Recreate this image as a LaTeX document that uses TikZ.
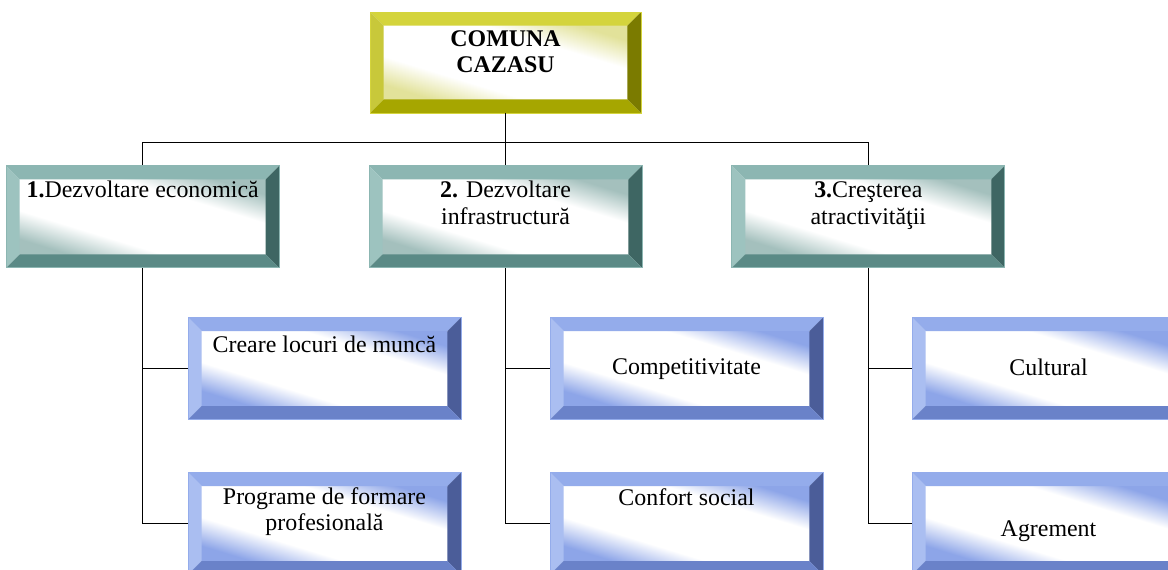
\documentclass[tikz,border=0pt]{standalone}
\usepackage{fontspec}
\setmainfont{Liberation Serif}
\usetikzlibrary{calc,positioning}

\newdimen\unitpx \unitpx=0.02cm
\newcommand{\bevw}{0.27cm}
% first text line sits #1 px above the box centre
\newcommand{\boxtext}[2]{\raisebox{#1\unitpx}[0pt][0pt]{\begin{tabular}[t]{@{}c@{}}#2\end{tabular}}}

\definecolor{goldT}{HTML}{D4D43C}
\definecolor{goldL}{HTML}{C8C83A}
\definecolor{goldR}{HTML}{7B7B00}
\definecolor{goldB}{HTML}{A6A600}
\definecolor{goldI}{HTML}{E2E29A}
\definecolor{tealT}{HTML}{8CB6B2}
\definecolor{tealL}{HTML}{9DC3BF}
\definecolor{tealR}{HTML}{3E6663}
\definecolor{tealB}{HTML}{5B8A86}
\definecolor{tealI}{HTML}{A4C0BD}
\definecolor{blueT}{HTML}{94ACEB}
\definecolor{blueL}{HTML}{AABEF1}
\definecolor{blueR}{HTML}{4B5D99}
\definecolor{blueB}{HTML}{6A82C9}
\definecolor{blueI}{HTML}{8DA5E8}

% diagonal inner fills: coloured corners, wide white band
\pgfdeclareverticalshading{goldfill}{100bp}{color(0bp)=(goldI); color(25bp)=(goldI); color(37bp)=(white); color(63bp)=(white); color(75bp)=(goldI); color(100bp)=(goldI)}
\pgfdeclareverticalshading{tealfill}{100bp}{color(0bp)=(tealI); color(25bp)=(tealI); color(37bp)=(white); color(63bp)=(white); color(75bp)=(tealI); color(100bp)=(tealI)}
\pgfdeclareverticalshading{bluefill}{100bp}{color(0bp)=(blueI); color(25bp)=(blueI); color(37bp)=(white); color(63bp)=(white); color(75bp)=(blueI); color(100bp)=(blueI)}

\tikzset{
  bevel/.style n args={5}{rectangle, inner sep=0pt, minimum width=5.46cm, minimum height=2.04cm,
    font=\fontsize{13.6pt}{15.3pt}\selectfont, draw=#1, line width=0.5pt,
    path picture={
      \coordinate (bl) at (path picture bounding box.south west);
      \coordinate (tr) at (path picture bounding box.north east);
      \coordinate (tl) at (bl|-tr);
      \coordinate (br) at (tr|-bl);
      \shade[shading=#5, shading angle=-17]
        ($(bl)+(\bevw,\bevw)$) rectangle ($(tr)-(\bevw,\bevw)$);
      \fill[#1] (tl) -- (tr) -- ($(tr)+(-\bevw,-\bevw)$) -- ($(tl)+(\bevw,-\bevw)$) -- cycle;
      \fill[#2] (tl) -- (bl) -- ($(bl)+(\bevw,\bevw)$) -- ($(tl)+(\bevw,-\bevw)$) -- cycle;
      \fill[#3] (tr) -- (br) -- ($(br)+(-\bevw,\bevw)$) -- ($(tr)+(-\bevw,-\bevw)$) -- cycle;
      \fill[#4] (bl) -- (br) -- ($(br)+(-\bevw,\bevw)$) -- ($(bl)+(\bevw,\bevw)$) -- cycle;
    }},
  goldbox/.style={bevel={goldT}{goldL}{goldR}{goldB}{goldfill}, minimum height=2.02cm, minimum width=5.42cm},
  tealbox/.style={bevel={tealT}{tealL}{tealR}{tealB}{tealfill}},
  bluebox/.style={bevel={blueT}{blueL}{blueR}{blueB}{bluefill}},
  link/.style={line width=0.8pt}
}

\begin{document}
\begin{tikzpicture}[x=0.02cm,y=-0.02cm]
  \useasboundingbox (0,0) rectangle (1168,569);
  \clip (0,0) rectangle (1168,569);

  \node[goldbox] (comuna) at (505.5,62.5) {\boxtext{16.5}{\textbf{COMUNA}\\\textbf{CAZASU}}};
  \node[tealbox, below=1.04cm of comuna] (econ) {\boxtext{19}{\textbf{2.} Dezvoltare\\infrastructură}};
  \node[tealbox, left=1.78cm of econ] (dezv) {\boxtext{19}{\textbf{1.}Dezvoltare economică}};
  \node[tealbox, right=1.78cm of econ] (atr) {\boxtext{19}{\textbf{3.}Creşterea\\atractivităţii}};

  \node[bluebox] (locuri) at (324.5,368.5) {\boxtext{16}{Creare locuri de muncă}};
  \node[bluebox] (formare) at (324.5,523.5) {\boxtext{19.5}{Programe de formare\\profesională}};
  \node[bluebox] (compet) at (686.5,368.5) {\boxtext{-5.5}{Competitivitate}};
  \node[bluebox] (confort) at (686.5,523.5) {\boxtext{18.5}{Confort social}};
  \node[bluebox] (cultural) at (1048.5,368.5) {\boxtext{-6.5}{Cultural}};
  \node[bluebox] (agrement) at (1048.5,523.5) {\boxtext{-12.5}{Agrement}};

  \draw[link] (comuna.south) -- ++(0,29) coordinate (bus) -| (dezv.north);
  \draw[link] (bus) -| (atr.north);
  \draw[link] (bus) -- (econ.north);

  \draw[link] (dezv.south) |- (formare.west);
  \draw[link] (dezv.south |- locuri.west) -- (locuri.west);
  \draw[link] (econ.south) |- (confort.west);
  \draw[link] (econ.south |- compet.west) -- (compet.west);
  \draw[link] (atr.south) |- (agrement.west);
  \draw[link] (atr.south |- cultural.west) -- (cultural.west);
\end{tikzpicture}
\end{document}
